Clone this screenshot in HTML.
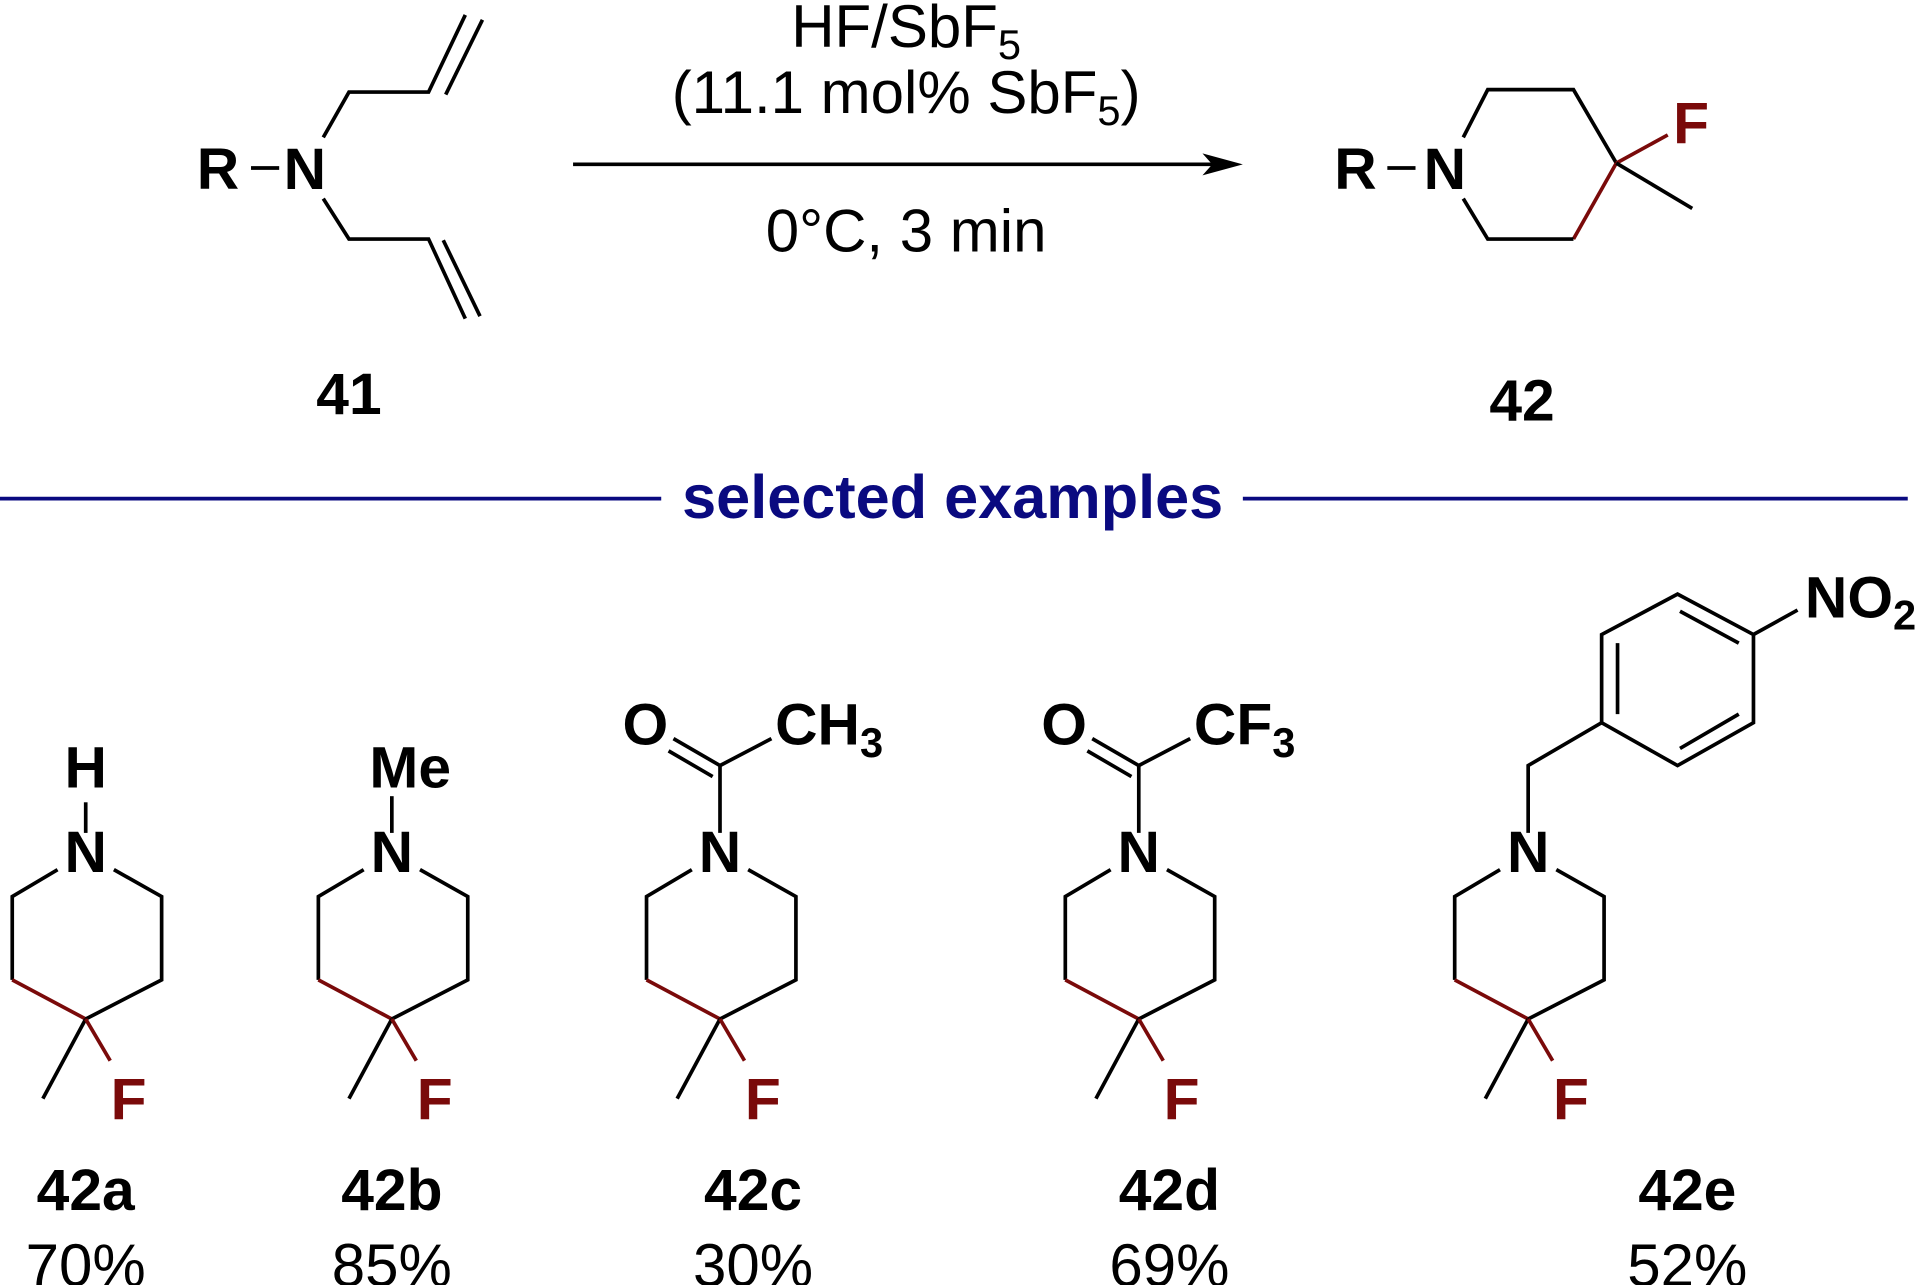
<!DOCTYPE html>
<html><head><style>
html,body{margin:0;padding:0;background:#fff;}
svg{display:block;}
text{font-family:"Liberation Sans",Arial,sans-serif;}
.a{font-weight:bold;font-size:48px;fill:#000;}
.r{font-weight:bold;font-size:48px;fill:#7a0a0a;}
.t{font-size:49px;fill:#000;}
</style></head><body>
<svg width="1920" height="1285" viewBox="0 0 1568 1049" xmlns="http://www.w3.org/2000/svg">
<defs>
<g id="ring">
<polyline points="-23,710 -60,732 -60,800" fill="none" stroke="#000" stroke-width="3"/>
<line x1="-60" y1="800" x2="0" y2="832" stroke="#7a0a0a" stroke-width="3"/>
<polyline points="0,832 62,800 62,732 23,710" fill="none" stroke="#000" stroke-width="3"/>
<line x1="0" y1="832" x2="-35" y2="897" stroke="#000" stroke-width="3"/>
<line x1="0" y1="832" x2="20" y2="866" stroke="#7a0a0a" stroke-width="3"/>
<text x="35" y="914" class="r" text-anchor="middle">F</text>
<text x="0" y="712" class="a" text-anchor="middle">N</text>
</g>
</defs>
<!-- 41 -->
<text x="178" y="154" class="a" text-anchor="middle">R</text>
<line x1="205" y1="137" x2="228" y2="137" stroke="#000" stroke-width="3"/>
<text x="249" y="154" class="a" text-anchor="middle">N</text>
<polyline points="264,112 285,75 350,75 380,12" fill="none" stroke="#000" stroke-width="3"/>
<line x1="364" y1="77" x2="394" y2="16" stroke="#000" stroke-width="3"/>
<polyline points="264,162 285,195 350,195 380,260" fill="none" stroke="#000" stroke-width="3"/>
<line x1="362" y1="196" x2="392" y2="258" stroke="#000" stroke-width="3"/>
<text x="285" y="338" class="a" text-anchor="middle">41</text>
<!-- arrow -->
<line x1="468" y1="134" x2="995" y2="134" stroke="#000" stroke-width="3"/>
<polygon points="1015,134 982,125 990,134 982,143" fill="#000"/>
<text x="740" y="38" class="t" text-anchor="middle">HF/SbF<tspan font-size="34" dy="10">5</tspan></text>
<text x="740" y="92" class="t" text-anchor="middle">(11.1 mol% SbF<tspan font-size="34" dy="10">5</tspan><tspan dy="-10">)</tspan></text>
<text x="740" y="205" class="t" text-anchor="middle">0°C, 3 min</text>
<!-- 42 -->
<text x="1107" y="154" class="a" text-anchor="middle">R</text>
<line x1="1133" y1="137" x2="1156" y2="137" stroke="#000" stroke-width="3"/>
<text x="1180" y="154" class="a" text-anchor="middle">N</text>
<polyline points="1195,112 1215,73 1285,73 1320,133" fill="none" stroke="#000" stroke-width="3"/>
<line x1="1320" y1="133" x2="1285" y2="195" stroke="#7a0a0a" stroke-width="3"/>
<polyline points="1285,195 1215,195 1195,162" fill="none" stroke="#000" stroke-width="3"/>
<line x1="1320" y1="133" x2="1362" y2="110" stroke="#7a0a0a" stroke-width="3"/>
<line x1="1320" y1="133" x2="1382" y2="170" stroke="#000" stroke-width="3"/>
<text x="1381" y="117" class="r" text-anchor="middle">F</text>
<text x="1243" y="343" class="a" text-anchor="middle">42</text>
<!-- divider -->
<line x1="0" y1="407" x2="540" y2="407" stroke="#0a0a80" stroke-width="3"/>
<line x1="1015" y1="407" x2="1558" y2="407" stroke="#0a0a80" stroke-width="3"/>
<text x="778" y="423" text-anchor="middle" font-weight="bold" font-size="50" fill="#0a0a80">selected examples</text>
<!-- examples -->
<use href="#ring" x="70"/>
<use href="#ring" x="320"/>
<use href="#ring" x="588"/>
<use href="#ring" x="930"/>
<use href="#ring" x="1248"/>
<!-- 42a -->
<line x1="70" y1="655" x2="70" y2="680" stroke="#000" stroke-width="3"/>
<text x="70" y="643" class="a" text-anchor="middle">H</text>
<!-- 42b -->
<line x1="320" y1="650" x2="320" y2="680" stroke="#000" stroke-width="3"/>
<text x="335" y="643" class="a" text-anchor="middle">Me</text>
<!-- 42c -->
<line x1="588" y1="680" x2="588" y2="625" stroke="#000" stroke-width="3"/>
<line x1="588" y1="625" x2="550" y2="603" stroke="#000" stroke-width="3"/>
<line x1="582" y1="634" x2="546" y2="613" stroke="#000" stroke-width="3"/>
<line x1="588" y1="625" x2="630" y2="603" stroke="#000" stroke-width="3"/>
<text x="527" y="608" class="a" text-anchor="middle">O</text>
<text x="633" y="608" class="a">CH<tspan font-size="34" dy="10">3</tspan></text>
<!-- 42d -->
<line x1="930" y1="680" x2="930" y2="625" stroke="#000" stroke-width="3"/>
<line x1="930" y1="625" x2="892" y2="603" stroke="#000" stroke-width="3"/>
<line x1="924" y1="634" x2="888" y2="613" stroke="#000" stroke-width="3"/>
<line x1="930" y1="625" x2="972" y2="603" stroke="#000" stroke-width="3"/>
<text x="869" y="608" class="a" text-anchor="middle">O</text>
<text x="975" y="608" class="a">CF<tspan font-size="34" dy="10">3</tspan></text>
<!-- 42e -->
<polyline points="1248,680 1248,625 1308,590" fill="none" stroke="#000" stroke-width="3"/>
<polygon points="1308,590 1308,518 1370,485 1432,518 1432,590 1370,625" fill="none" stroke="#000" stroke-width="3"/>
<line x1="1321" y1="583" x2="1321" y2="525" stroke="#000" stroke-width="3"/>
<line x1="1372" y1="499" x2="1420" y2="525" stroke="#000" stroke-width="3"/>
<line x1="1420" y1="583" x2="1372" y2="611" stroke="#000" stroke-width="3"/>
<line x1="1432" y1="518" x2="1468" y2="498" stroke="#000" stroke-width="3"/>
<text x="1474" y="504" class="a">NO<tspan font-size="34" dy="10">2</tspan></text>
<!-- labels -->
<text x="70" y="988" class="a" text-anchor="middle">42a</text>
<text x="320" y="988" class="a" text-anchor="middle">42b</text>
<text x="615" y="988" class="a" text-anchor="middle">42c</text>
<text x="955" y="988" class="a" text-anchor="middle">42d</text>
<text x="1378" y="988" class="a" text-anchor="middle">42e</text>
<text x="70" y="1050" class="t" text-anchor="middle">70%</text>
<text x="320" y="1050" class="t" text-anchor="middle">85%</text>
<text x="615" y="1050" class="t" text-anchor="middle">30%</text>
<text x="955" y="1050" class="t" text-anchor="middle">69%</text>
<text x="1378" y="1050" class="t" text-anchor="middle">52%</text>
</svg>
</body></html>
